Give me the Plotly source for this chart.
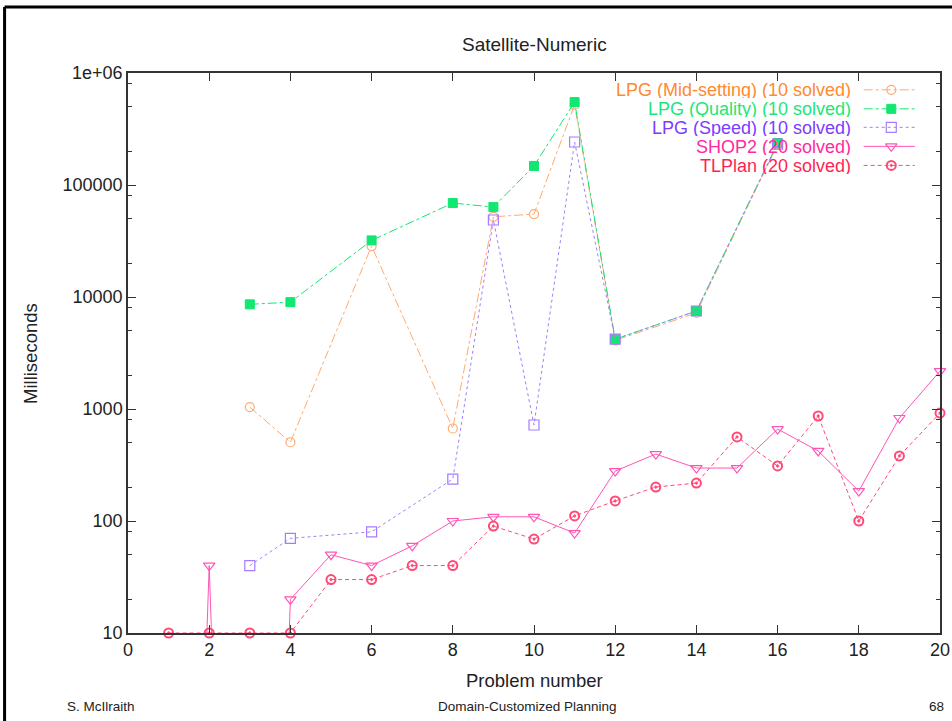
import plotly.graph_objects as go

# ---------------- data ----------------
problems_lpg = [3, 4, 6, 8, 9, 10, 11, 12, 14, 16]
lpg_mid = [1040, 505, 28500, 670, 52000, 55000, 520000, 4100, 7200, 230000]
lpg_quality = [8600, 9000, 32000, 69000, 63500, 148000, 550000, 4200, 7500, 237000]
lpg_speed = [40, 70, 80, 237, 48700, 720, 242000, 4200, 7500, 232000]

problems_all = list(range(1, 21))
# problems 1 and 3 for SHOP2: ~0 ms (far below the axis floor)
shop2 = [1e-9, 40, 1e-9, 20, 50, 40, 60, 100, 109, 109, 78, 279, 396, 297, 297, 662, 422, 185, 831, 2180]
tlplan = [10, 10, 10, 10, 30, 30, 40, 40, 90, 69, 111, 151, 201, 218, 563, 310, 866, 100, 381, 920]

series_names = [
    "LPG (Mid-setting) (10 solved)",
    "LPG (Quality) (10 solved)",
    "LPG (Speed) (10 solved)",
    "SHOP2 (20 solved)",
    "TLPlan (20 solved)",
]
x_ticks = [0, 2, 4, 6, 8, 10, 12, 14, 16, 18, 20]
y_ticks = [10, 100, 1000, 10000, 100000, 1000000]
y_tick_text = ["10", "100", "1000", "10000", "100000", "1e+06"]
y_minor = [m * 10 ** e for e in range(1, 6) for m in (2, 5, 8)]

# ---------------- styles ----------------
FONT = "Liberation Sans, Arial, Helvetica, sans-serif"
TXT = "#222222"
styles = [
    dict(text="#ff8a30", line="#ffaa70", dash="dashdot", symbol="circle-open", size=9, mlw=1.2),
    dict(text="#1ee67a", line="#10e870", dash="dashdot", symbol="square", size=9, mlw=1),
    dict(text="#7b3cff", line="#a47cff", dash="dot", symbol="square-open", size=10, mlw=1.2),
    dict(text="#ff2aa0", line="#ff55b5", dash="solid", symbol="triangle-down-open", size=10, mlw=1.2),
    dict(text="#ff1f55", line="#ff4a78", dash="4px,3px", symbol="circle-open-dot", size=9, mlw=2),
]
xs = [problems_lpg, problems_lpg, problems_lpg, problems_all, problems_all]
ys = [lpg_mid, lpg_quality, lpg_speed, shop2, tlplan]

fig = go.Figure()
for name, x, y, st in zip(series_names, xs, ys, styles):
    fig.add_trace(go.Scatter(
        x=x, y=y, mode="lines+markers", name=name, showlegend=False,
        cliponaxis=False,
        line=dict(color=st["line"], width=1, dash=st["dash"]),
        marker=dict(symbol=st["symbol"], size=st["size"], color=st["line"],
                    line=dict(color=st["line"], width=st["mlw"])),
    ))

# ---------------- gnuplot-style key (text, then sample) ----------------
key_rows = [0.970, 0.936, 0.903, 0.869, 0.835]
for name, st, ky in zip(series_names, styles, key_rows):
    fig.add_trace(go.Scatter(
        x=[0.906, 0.969], y=[ky, ky], mode="lines", xaxis="x2", yaxis="y2",
        showlegend=False, hoverinfo="skip",
        line=dict(color=st["line"], width=1, dash=st["dash"]),
    ))
    fig.add_trace(go.Scatter(
        x=[0.940], y=[ky], mode="markers", xaxis="x2", yaxis="y2",
        showlegend=False, hoverinfo="skip", cliponaxis=False,
        marker=dict(symbol=st["symbol"], size=st["size"], color=st["line"],
                    line=dict(color=st["line"], width=st["mlw"])),
    ))
    fig.add_annotation(
        x=0.893, y=ky, xref="x2", yref="y2", text=name, showarrow=False,
        xanchor="right", yanchor="middle", height=17,
        font=dict(family=FONT, size=18, color=st["text"]),
    )

axis_common = dict(
    showline=True, linecolor="#333333", linewidth=1.5, mirror="ticks",
    ticks="inside", tickcolor="#333333", ticklen=8, tickwidth=1,
    showgrid=False, zeroline=False, automargin=False,
    tickfont=dict(family=FONT, size=18, color=TXT),
)

fig.update_layout(
    width=952, height=721,
    paper_bgcolor="white", plot_bgcolor="white",
    margin=dict(l=128, r=12, t=73, b=88, autoexpand=False),
    xaxis=dict(range=[0, 20], tickvals=x_ticks, **axis_common),
    yaxis=dict(
        type="log", range=[1, 6], tickvals=y_ticks, ticktext=y_tick_text,
        minor=dict(tickvals=y_minor, ticks="inside", ticklen=4, tickcolor="#333333"),
        **axis_common,
    ),
    xaxis2=dict(overlaying="x", range=[0, 1], visible=False, fixedrange=True),
    yaxis2=dict(overlaying="y", range=[0, 1], visible=False, fixedrange=True),
    showlegend=False,
)

# titles
fig.add_annotation(text="Satellite-Numeric", xref="paper", yref="paper", x=0.5, y=1.05,
                   xanchor="center", yanchor="middle", showarrow=False,
                   font=dict(family=FONT, size=19, color=TXT))
fig.add_annotation(text="Problem number", xref="paper", yref="paper", x=0.5, y=-0.084,
                   xanchor="center", yanchor="middle", showarrow=False,
                   font=dict(family=FONT, size=18.5, color=TXT))
fig.add_annotation(text="Milliseconds", xref="paper", yref="paper", x=-0.1207, y=0.5,
                   xanchor="center", yanchor="middle", showarrow=False, textangle=-90,
                   font=dict(family=FONT, size=18.5, color=TXT))

# slide frame (left and top edges) and footer
fig.add_shape(type="line", xref="paper", yref="paper", x0=-0.152, x1=-0.152, y0=1.118, y1=-0.2,
              line=dict(color="black", width=3))
fig.add_shape(type="line", xref="paper", yref="paper", x0=-0.152, x1=1.02, y0=1.118, y1=1.118,
              line=dict(color="black", width=3))
footer_font = dict(family=FONT, size=13.5, color=TXT)
fig.add_annotation(text="S. McIlraith", xref="paper", yref="paper", x=-0.0776, y=-0.132,
                   xanchor="left", yanchor="middle", showarrow=False, font=footer_font)
fig.add_annotation(text="Domain-Customized Planning", xref="paper", yref="paper", x=0.4926, y=-0.132,
                   xanchor="center", yanchor="middle", showarrow=False, font=footer_font)
fig.add_annotation(text="68", xref="paper", yref="paper", x=1.0074, y=-0.132,
                   xanchor="right", yanchor="middle", showarrow=False, font=footer_font)

fig.write_html(
    "out.html",
    config={"displayModeBar": False},
    post_script="document.body.style.margin='0px';document.body.style.overflow='hidden';",
)
